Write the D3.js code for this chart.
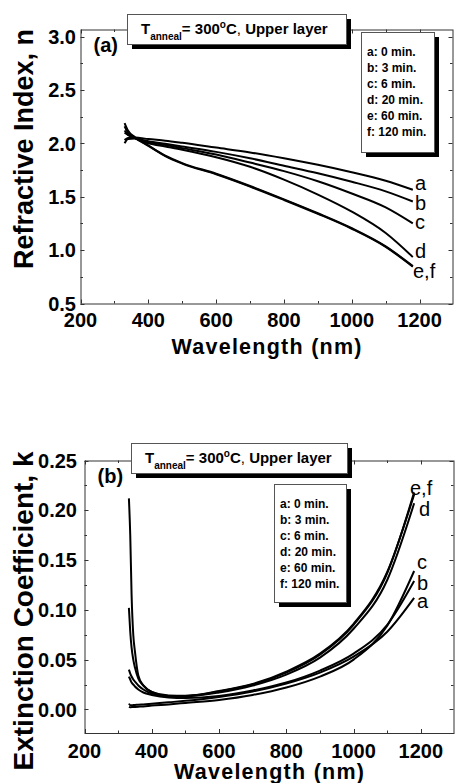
<!DOCTYPE html>
<html><head><meta charset="utf-8">
<script src="https://cdn.jsdelivr.net/npm/d3@7"></script>
<style>
body{margin:0;background:#fff}
svg{display:block}
text{font-family:"Liberation Sans",Arial,Helvetica,sans-serif}
</style>
</head><body>
<svg id="chart" width="455" height="783"></svg>
<script>
// ---------- data ----------
const seriesNames = ["a","b","c","d","e","f"];
const legendItems = ["a: 0 min.","b: 3 min.","c: 6 min.","d: 20 min.","e: 60 min.","f: 120 min."];
const xTicks = [200,400,600,800,1000,1200];

// Panel (a): refractive index n
const nWavelength = [330,340,360,400,450,500,600,700,800,900,1000,1100,1180];
const nA = [2.03,2.05,2.055,2.04,2.025,2.005,1.96,1.915,1.86,1.80,1.73,1.65,1.565];
const nB = [2.12,2.08,2.05,2.02,1.995,1.97,1.92,1.86,1.79,1.72,1.64,1.55,1.455];
const nC = [2.16,2.10,2.05,2.01,1.985,1.955,1.895,1.82,1.74,1.645,1.53,1.40,1.25];
const nD = [2.00,2.04,2.045,2.00,1.97,1.94,1.87,1.78,1.66,1.52,1.36,1.16,0.935];
const nE = [2.19,2.12,2.06,1.98,1.88,1.81,1.71,1.595,1.47,1.34,1.20,1.03,0.845];
const nF = [2.10,2.08,2.05,1.975,1.885,1.815,1.715,1.60,1.475,1.345,1.205,1.035,0.85];
const nYTicks = [0.5,1.0,1.5,2.0,2.5,3.0];

// Panel (b): extinction coefficient k
const kWavelength = [332,336,340,345,350,360,375,400,450,500,600,700,800,900,1000,1100,1180];
const kA = [0.0058,0.0042,0.0042,0.0043,0.0044,0.0047,0.005,0.0057,0.0071,0.0086,0.0125,0.018,0.026,0.037,0.053,0.078,0.112];
const kB = [0.033,0.030,0.027,0.025,0.023,0.020,0.017,0.0145,0.012,0.0115,0.0135,0.019,0.027,0.039,0.056,0.085,0.129];
const kC = [0.0025,0.0022,0.0023,0.0024,0.0025,0.0027,0.003,0.0038,0.005,0.0065,0.0095,0.0145,0.022,0.033,0.050,0.084,0.139];
const kD = [0.040,0.036,0.033,0.030,0.028,0.024,0.020,0.016,0.0135,0.0133,0.017,0.024,0.035,0.052,0.081,0.130,0.207];
const kE = [0.212,0.175,0.115,0.075,0.058,0.034,0.024,0.0175,0.0135,0.0135,0.018,0.025,0.037,0.055,0.085,0.137,0.218];
const kF = [0.102,0.078,0.062,0.050,0.042,0.031,0.024,0.0175,0.014,0.0138,0.0185,0.0255,0.038,0.056,0.086,0.138,0.216];
const kYTicks = [0.00,0.05,0.10,0.15,0.20,0.25];

// ---------- drawing ----------
const svg = d3.select("#chart");

function panel(cfg){
  const g = svg.append("g");
  const x = d3.scaleLinear().domain([200,1297]).range([cfg.left,cfg.right]);
  const y = d3.scaleLinear().domain(cfg.yDomain).range([cfg.bottom,cfg.top]);

  // inward ticks on all four sides
  const minorX = d3.range(300,1300,200);
  const tickLen = 4, minorLen = 2.5;
  const tk = g.append("g").attr("stroke","#333").attr("stroke-width",1);
  xTicks.concat(minorX).forEach(v=>{
    const L = xTicks.includes(v)?tickLen:minorLen;
    const px = Math.round(x(v))+0.5;
    tk.append("line").attr("x1",px).attr("x2",px).attr("y1",cfg.bottom).attr("y2",cfg.bottom-L);
    tk.append("line").attr("x1",px).attr("x2",px).attr("y1",cfg.top).attr("y2",cfg.top+L);
  });
  cfg.yTicks.concat(cfg.yMinor).forEach(v=>{
    const L = cfg.yTicks.includes(v)?tickLen:minorLen;
    const py = Math.round(y(v))+0.5;
    tk.append("line").attr("y1",py).attr("y2",py).attr("x1",cfg.left).attr("x2",cfg.left+L);
    tk.append("line").attr("y1",py).attr("y2",py).attr("x1",cfg.right).attr("x2",cfg.right-L);
  });
  // frame
  g.append("rect").attr("x",cfg.left+0.5).attr("y",cfg.top+0.5)
    .attr("width",cfg.right-cfg.left).attr("height",cfg.bottom-cfg.top)
    .attr("fill","none").attr("stroke","#333").attr("stroke-width",1);

  // tick labels
  g.append("g").selectAll("text").data(xTicks).join("text")
    .attr("x",d=>x(d)).attr("y",cfg.bottom+cfg.xLabelDy)
    .attr("text-anchor","middle").attr("font-size",20).attr("font-weight","bold")
    .text(d=>d);
  g.append("g").selectAll("text").data(cfg.yTicks).join("text")
    .attr("x",cfg.yLabelX).attr("y",d=>y(d)).attr("dy","0.36em")
    .attr("text-anchor","end").attr("font-size",20).attr("font-weight","bold")
    .text(d=>cfg.fmt(d));

  // axis titles
  g.append("text").attr("x",(cfg.left+cfg.right)/2).attr("y",cfg.xTitleY)
    .attr("text-anchor","middle").attr("font-size",21.5).attr("font-weight","bold")
    .attr("textLength",190).attr("lengthAdjust","spacing")
    .text("Wavelength (nm)");
  g.append("text").attr("transform",`translate(${cfg.yTitleX},${cfg.yTitleCY}) rotate(-90)`)
    .attr("text-anchor","middle").attr("font-size",cfg.yTitleSize).attr("font-weight","bold")
    .text(cfg.yTitle);

  // curves
  const line = d3.line().x((d,i)=>x(cfg.wl[i])).y(d=>y(d)).curve(d3.curveMonotoneX);
  g.append("g").selectAll("path").data(cfg.series).join("path")
    .attr("d",d=>line(d)).attr("fill","none").attr("stroke","#000")
    .attr("stroke-width",2).attr("stroke-linejoin","round");

  // curve labels
  g.append("g").selectAll("text").data(cfg.curveLabels).join("text")
    .attr("x",d=>d[1]).attr("y",d=>d[2])
    .attr("font-size",20).text(d=>d[0]);

  // panel letter
  g.append("text").attr("x",cfg.left+13).attr("y",cfg.top+22)
    .attr("font-size",20).attr("font-weight","bold").text(cfg.letter);

  // title box
  const tb = cfg.titleBox;
  g.append("rect").attr("x",tb[0]+5).attr("y",tb[1]+5).attr("width",tb[2]).attr("height",tb[3]).attr("fill","#000");
  g.append("rect").attr("x",tb[0]+0.5).attr("y",tb[1]+0.5).attr("width",tb[2]).attr("height",tb[3])
    .attr("fill","#fff").attr("stroke","#555").attr("stroke-width",1);
  const tt = g.append("text").attr("x",tb[0]+14).attr("y",tb[1]+20)
    .attr("font-size",15).attr("font-weight","bold");
  tt.append("tspan").text("T");
  tt.append("tspan").attr("font-size",10).attr("dy",6).text("anneal");
  tt.append("tspan").attr("dy",-6).text("= 300");
  tt.append("tspan").attr("font-size",10).attr("dy",-6).text("o");
  tt.append("tspan").attr("dy",6).text("C");
  tt.append("tspan").attr("font-weight","normal").text(", ");
  tt.append("tspan").text("Upper layer");

  // legend box
  const lb = cfg.legendBox;
  g.append("rect").attr("x",lb[0]+5).attr("y",lb[1]+5).attr("width",lb[2]).attr("height",lb[3]).attr("fill","#000");
  g.append("rect").attr("x",lb[0]+0.5).attr("y",lb[1]+0.5).attr("width",lb[2]).attr("height",lb[3])
    .attr("fill","#fff").attr("stroke","#555").attr("stroke-width",1);
  g.append("g").selectAll("text").data(legendItems).join("text")
    .attr("x",lb[0]+6).attr("y",(d,i)=>lb[1]+24+i*16)
    .attr("font-size",12).attr("font-weight","bold").text(d=>d);
}

panel({
  left:80.5, right:452.5, top:29.5, bottom:303.5,
  yDomain:[0.5,3.066], yTicks:nYTicks, yMinor:[0.75,1.25,1.75,2.25,2.75],
  fmt:d3.format(".1f"), yLabelX:76, xLabelDy:23.5, xTitleY:354,
  yTitle:"Refractive Index, n", yTitleX:33, yTitleCY:149, yTitleSize:27,
  wl:nWavelength, series:[nA,nB,nC,nD,nE,nF],
  curveLabels:[["a",415,190],["b",415,210],["c",415,229],["d",415,258],["e,f",413,278]],
  letter:"(a)", titleBox:[127,14,219,30], legendBox:[361,32,73,120]
});

panel({
  left:84.5, right:453.5, top:460.5, bottom:733,
  yDomain:[-0.0237,0.25], yTicks:kYTicks, yMinor:[0.025,0.075,0.125,0.175,0.225],
  fmt:d3.format(".2f"), yLabelX:77, xLabelDy:25, xTitleY:779,
  yTitle:"Extinction Coefficient, k", yTitleX:33, yTitleCY:611, yTitleSize:28,
  wl:kWavelength, series:[kA,kB,kC,kD,kE,kF],
  curveLabels:[["e,f",410,495],["d",419,516],["c",417,569],["b",417,590],["a",417,608]],
  letter:"(b)", titleBox:[131,443,216,30], legendBox:[274,484,72,118]
});
</script>
</body></html>
